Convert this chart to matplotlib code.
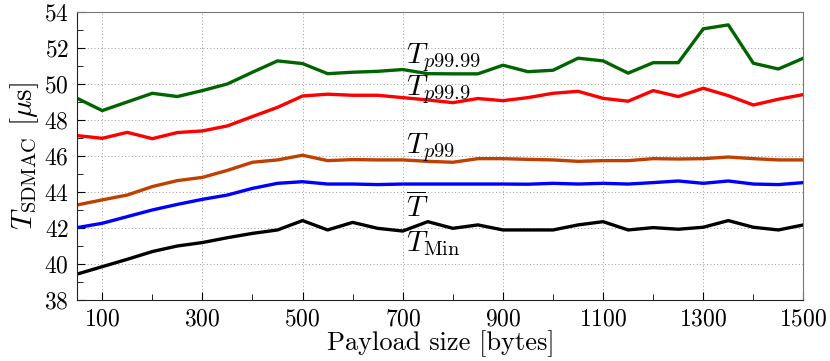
import matplotlib.pyplot as plt
from matplotlib.ticker import MultipleLocator

plt.rcParams['font.family'] = 'serif'
plt.rcParams['font.serif'] = ['cmr10']
plt.rcParams['mathtext.fontset'] = 'cm'
plt.rcParams['axes.formatter.use_mathtext'] = True

# payload sizes in bytes
payload = list(range(50, 1501, 50))

# latencies in microseconds
t_p9999 = [49.2, 48.52, 49.0, 49.48, 49.3, 49.63, 50.0, 50.65, 51.28, 51.13,
           50.57, 50.65, 50.7, 50.8, 50.57, 50.56, 50.56, 51.04, 50.68, 50.76,
           51.43, 51.28, 50.6, 51.18, 51.18, 53.06, 53.28, 51.15, 50.83, 51.43]
t_p999 = [47.13, 46.98, 47.31, 46.96, 47.3, 47.39, 47.67, 48.19, 48.7, 49.33,
          49.43, 49.37, 49.37, 49.24, 49.11, 48.96, 49.19, 49.07, 49.24, 49.48,
          49.59, 49.2, 49.04, 49.63, 49.3, 49.76, 49.35, 48.83, 49.15, 49.41]
t_p99 = [43.28, 43.56, 43.83, 44.3, 44.63, 44.81, 45.2, 45.65, 45.78, 46.04,
         45.74, 45.8, 45.78, 45.78, 45.7, 45.65, 45.85, 45.85, 45.81, 45.78,
         45.7, 45.74, 45.74, 45.85, 45.83, 45.85, 45.94, 45.85, 45.78, 45.78]
t_mean = [42.02, 42.26, 42.63, 43.0, 43.31, 43.59, 43.83, 44.2, 44.48, 44.57,
          44.44, 44.44, 44.41, 44.44, 44.44, 44.44, 44.44, 44.44, 44.43, 44.48,
          44.44, 44.48, 44.44, 44.52, 44.61, 44.48, 44.61, 44.44, 44.41, 44.52]
t_min = [39.44, 39.85, 40.26, 40.69, 41.0, 41.19, 41.46, 41.7, 41.89, 42.41,
         41.89, 42.31, 41.98, 41.83, 42.35, 41.98, 42.17, 41.89, 41.89, 41.89,
         42.17, 42.35, 41.89, 42.02, 41.93, 42.04, 42.41, 42.04, 41.89, 42.17]

series = [
    (t_p9999, '#006400', r'$T_{p99.99}$', 51.17),
    (t_p999, '#ff0000', r'$T_{p99.9}$', 49.39),
    (t_p99, '#c04000', r'$T_{p99}$', 46.17),
    (t_mean, '#0000ff', r'$\overline{T}$', 42.56),
    (t_min, '#000000', r'$T_{\mathrm{Min}}$', 40.72),
]

fig = plt.figure(figsize=(8.3, 3.61), dpi=100)
ax = fig.add_axes([0.093, 0.169, 0.875, 0.798])

for vals, col, lab, ly in series:
    ax.plot(payload, vals, color=col, lw=2.4, solid_joinstyle='round')
    ax.text(707, ly, lab, fontsize=21, va='baseline', ha='left')

ax.set_xlim(50, 1500)
ax.set_ylim(38, 54)
ax.set_xticks(range(100, 1501, 200))
ax.xaxis.set_minor_locator(MultipleLocator(100))
ax.set_yticks(range(38, 55, 2))
ax.yaxis.set_minor_locator(MultipleLocator(1))
ax.grid(True, which='major', ls=(0, (1, 2.5)), color='#999999', lw=0.7)
ax.tick_params(which='both', direction='in', top=False, right=False,
               labelsize=17, pad=6)
ax.tick_params(which='major', length=6)
ax.tick_params(which='minor', length=4)
for s in ['top', 'right']:
    ax.spines[s].set_color('#777777')
for s in ['left', 'bottom']:
    ax.spines[s].set_color('#222222')

ax.set_xlabel('Payload size [bytes]', fontsize=19, labelpad=0)
ax.set_ylabel(r'$T_{\mathrm{SDMAC}}$ [$\mu$s]', fontsize=21, labelpad=2)

fig.savefig('out.png', dpi=100)
